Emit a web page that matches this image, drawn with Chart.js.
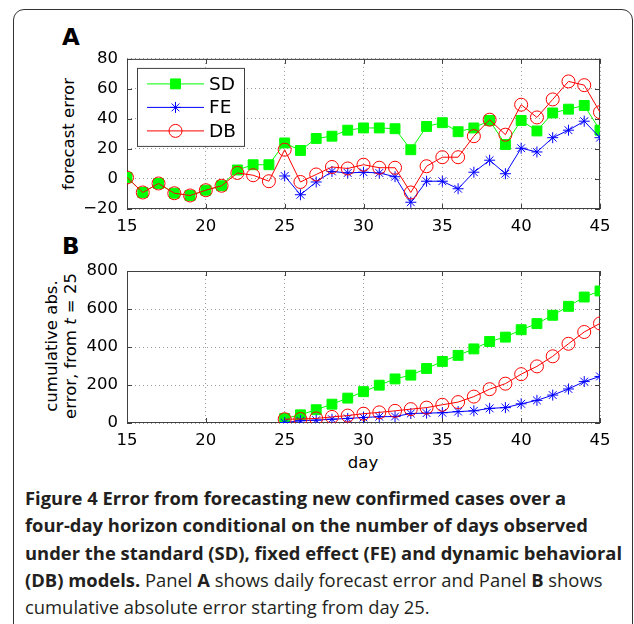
<!DOCTYPE html>
<html>
<head>
<meta charset="utf-8">
<script src="https://cdn.jsdelivr.net/npm/chart.js@4.4.1/dist/chart.umd.min.js"></script>
<style>
  body { margin: 0; background: #fff; width: 634px; height: 624px; position: relative; overflow: hidden;
         font-family: "DejaVu Sans", sans-serif; color: #000; }
  .frame { position: absolute; left: 13px; top: 9px; width: 620px; height: 700px; box-sizing: border-box;
           border: 1.5px solid #333; border-radius: 11px 11px 0 0; }
  canvas { position: absolute; left: 0; }
  #chartA { top: 40px; }
  #chartB { top: 250px; }
  .panel { position: absolute; font-weight: bold; font-size: 23px; line-height: 24px; }
  .ytitle { position: absolute; width: 200px; text-align: center; white-space: nowrap;
            font-size: 16.5px; transform: rotate(-90deg); }
  .xtitle { position: absolute; width: 100px; text-align: center; font-size: 16.5px; line-height: 20px; }
  .caption { position: absolute; left: 25px; top: 484px; font-family: "Open Sans", sans-serif;
             font-size: 18.4px; line-height: 27.3px; color: #231f20; white-space: nowrap; }
  .caption b { font-weight: 700; }
</style>
</head>
<body>
<div class="frame"></div>

<div class="panel" style="left:62px; top:25px;">A</div>
<div class="panel" style="left:62px; top:234px;">B</div>

<div class="ytitle" style="left:-31px; top:124px; line-height:20px;">forecast error</div>
<div class="ytitle" style="left:-39.5px; top:327px; line-height:19px;">cumulative abs.<br>error, from <i>t</i> = 25</div>
<div class="xtitle" style="left:313px; top:453px;">day</div>

<canvas id="chartA" width="634" height="200"></canvas>
<canvas id="chartB" width="634" height="200"></canvas>

<div class="caption">
  <b>Figure 4 Error from forecasting new confirmed cases over a<br>
  four-day horizon conditional on the number of days observed<br>
  under the standard (SD), fixed effect (FE) and dynamic behavioral<br>
  (DB) models.</b> Panel <b>A</b> shows daily forecast error and Panel <b>B</b> shows<br>
  cumulative absolute error starting from day 25.
</div>

<script>
// ── Data ───────────────────────────────────────────────────────
const days      = [15, 16, 17, 18, 19, 20, 21, 22, 23, 24, 25, 26, 27, 28, 29, 30,
                   31, 32, 33, 34, 35, 36, 37, 38, 39, 40, 41, 42, 43, 44, 45];
const daysFrom25 = [25, 26, 27, 28, 29, 30, 31, 32, 33, 34, 35, 36, 37, 38, 39, 40,
                    41, 42, 43, 44, 45];

// Panel A: daily forecast error
const sdError = [1, -9, -3, -9.5, -11, -7.5, -4.5, 6, 9.5, 9.5, 24, 19, 27, 28.5, 32.5, 34,
                 34, 33.5, 19.5, 35, 37.5, 31.5, 34, 39, 23, 39, 32, 44, 46.5, 49, 32.5];
const dbError = [1, -9, -3, -9.5, -11, -7.5, -4.5, 4, 2.5, -1.5, 19.5, -2, 3, 8, 7, 9.5,
                 7.5, 7.5, -9, 8.5, 14.5, 14.5, 28.5, 39.5, 29.5, 49.5, 41, 53, 65, 62.5, 44.5];
const feError = [2, -10.5, -2, 5, 4, 4.5, 4, 1.5, -15.5, -1.5, -1.5, -6.5, 4.5, 12.5, 3.5,
                 20.5, 18, 27.5, 32.5, 38.5, 27.5];

// Panel B: cumulative absolute error from day 25
const sdCum = [24, 43, 70, 99, 131, 165, 199, 232, 252, 287, 324, 356, 390, 429, 452, 491,
               523, 567, 614, 663, 695];
const feCum = [2, 12, 15, 20, 24, 29, 33, 34, 50, 52, 54, 60, 64, 77, 81, 101, 119, 147,
               179, 218, 245];
const dbCum = [20, 21, 24, 32, 39, 49, 56, 64, 73, 81, 96, 110, 139, 178, 207, 257, 298,
               351, 417, 479, 524];

const dayTicks = [15, 20, 25, 30, 35, 40, 45];
const errTicks = [-20, 0, 20, 40, 60, 80];
const cumTicks = [0, 200, 400, 600, 800];

// ── Palette ────────────────────────────────────────────────────
const COLORS = {
  green: "#00ff00",
  blue:  "#0000ff",
  red:   "#ff0000",
  grid:  "#9a9a9a",
  axis:  "#404040",
  text:  "#000000",
};
const FONT = "'DejaVu Sans', sans-serif";
const TICK = 5;

const pts = (xs, ys) => xs.map((x, i) => ({ x, y: ys[i] }));

function series(label, xs, ys, style) {
  const base = {
    SD: { borderColor: COLORS.green, backgroundColor: COLORS.green, pointStyle: "rect",   pointRadius: 7,   order: 3 },
    FE: { borderColor: COLORS.blue,  backgroundColor: COLORS.blue,  pointStyle: "star",   pointRadius: 5.5, order: 2 },
    DB: { borderColor: COLORS.red,   backgroundColor: "rgba(0,0,0,0)", pointStyle: "circle", pointRadius: 6.5, order: 1 },
  }[style];
  return {
    label,
    data: pts(xs, ys),
    borderWidth: 1,
    pointBorderWidth: 1,
    pointBackgroundColor: base.backgroundColor,
    pointBorderColor: base.borderColor,
    tension: 0,
    ...base,
  };
}

// ── Axes box with inward ticks (MATLAB look) ───────────────────
const axesBox = {
  id: "axesBox",
  beforeDatasetsDraw(chart) {
    const { ctx, chartArea: a, scales: { x, y } } = chart;
    ctx.save();
    ctx.strokeStyle = COLORS.axis;
    ctx.lineWidth = 1;
    ctx.strokeRect(a.left + 0.5, a.top + 0.5, a.width - 1, a.height - 1);
    ctx.beginPath();
    x.ticks.forEach(t => {
      const px = Math.round(x.getPixelForValue(t.value)) + 0.5;
      ctx.moveTo(px, a.bottom); ctx.lineTo(px, a.bottom - TICK);
      ctx.moveTo(px, a.top);    ctx.lineTo(px, a.top + TICK);
    });
    y.ticks.forEach(t => {
      const py = Math.round(y.getPixelForValue(t.value)) + 0.5;
      ctx.moveTo(a.left, py);  ctx.lineTo(a.left + TICK, py);
      ctx.moveTo(a.right, py); ctx.lineTo(a.right - TICK, py);
    });
    ctx.stroke();
    ctx.restore();
  }
};

// ── Legend: line + marker sample, boxed ───────────────────────
const matLegend = {
  id: "matLegend",
  afterDraw(chart, args, opts) {
    if (!opts.show) return;
    const { ctx, chartArea: a } = chart;
    const x0 = a.left + 10, y0 = a.top + 9, w = 107, h = 78;
    ctx.save();
    ctx.fillStyle = "#fff";
    ctx.fillRect(x0, y0, w, h);
    ctx.strokeStyle = COLORS.axis;
    ctx.lineWidth = 1;
    ctx.strokeRect(x0 + 0.5, y0 + 0.5, w, h);
    chart.data.datasets.forEach((d, i) => {
      const yy = y0 + 16 + i * 23.5;
      ctx.strokeStyle = d.borderColor;
      ctx.lineWidth = 1;
      ctx.beginPath();
      ctx.moveTo(x0 + 10, yy); ctx.lineTo(x0 + 67, yy);
      ctx.stroke();
      ctx.fillStyle = d.backgroundColor;
      Chart.helpers.drawPoint(ctx, { pointStyle: d.pointStyle, radius: d.pointRadius, rotation: 0, borderWidth: 1 }, x0 + 38.5, yy);
      ctx.fillStyle = COLORS.text;
      ctx.font = "18.5px " + FONT;
      ctx.textBaseline = "middle";
      ctx.fillText(d.label, x0 + 72, yy + 1);
    });
    ctx.restore();
  }
};

function makePanel(canvasId, datasets, yTicks, pad, xAxisHeight, legend) {
  const tickFont = { family: FONT, size: 16.5 };
  const grid = { color: COLORS.grid, lineWidth: 1, drawTicks: false };
  const border = { display: false, dash: [1, 3] };
  return new Chart(document.getElementById(canvasId), {
    type: "line",
    data: { datasets },
    options: {
      responsive: false,
      animation: false,
      devicePixelRatio: 1,
      layout: { padding: pad },
      plugins: {
        legend: { display: false },
        tooltip: { enabled: false },
        matLegend: { show: legend },
      },
      scales: {
        x: {
          type: "linear",
          min: dayTicks[0], max: dayTicks[dayTicks.length - 1],
          afterBuildTicks: s => { s.ticks = dayTicks.map(v => ({ value: v })); },
          afterFit: s => { s.height = xAxisHeight; },
          grid, border,
          ticks: { font: tickFont, color: COLORS.text, padding: 8, maxRotation: 0 },
        },
        y: {
          type: "linear",
          min: yTicks[0], max: yTicks[yTicks.length - 1],
          afterBuildTicks: s => { s.ticks = yTicks.map(v => ({ value: v })); },
          afterFit: s => { s.width = 127; },
          grid, border,
          ticks: {
            font: tickFont, color: COLORS.text, padding: 9,
            callback: v => String(v).replace("-", "\u2212"),
          },
        },
      },
    },
    plugins: [axesBox, matLegend],
  });
}

makePanel("chartA", [
  series("SD", days, sdError, "SD"),
  series("FE", daysFrom25, feError, "FE"),
  series("DB", days, dbError, "DB"),
], errTicks, { top: 17, right: 34, left: 0, bottom: 0 }, 31, true);

makePanel("chartB", [
  series("SD", daysFrom25, sdCum, "SD"),
  series("FE", daysFrom25, feCum, "FE"),
  series("DB", daysFrom25, dbCum, "DB"),
], cumTicks, { top: 21, right: 34, left: 0, bottom: 0 }, 27, false);
</script>
</body>
</html>
